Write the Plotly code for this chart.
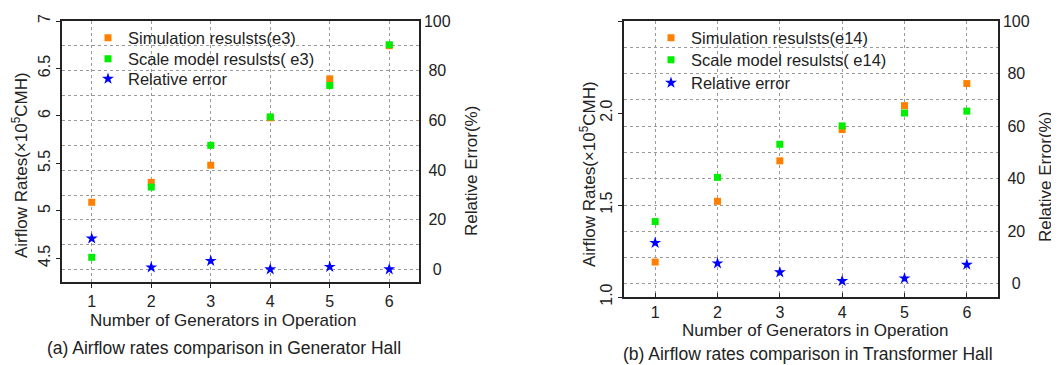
import plotly.graph_objects as go

# The page body adds an 8px margin, so the figure is drawn 8px in from the top-left.
OFF = 8
W, H = 1059 - OFF, 365 - OFF

generators = [1, 2, 3, 4, 5, 6]
gen_sim = [5.09, 5.30, 5.48, 5.98, 6.39, 6.74]
gen_scale = [4.51, 5.25, 5.69, 5.99, 6.32, 6.75]
gen_err = [12.5, 0.9, 3.5, 0.1, 1.1, 0.1]
tr_sim = [1.19, 1.52, 1.74, 1.91, 2.04, 2.16]
tr_scale = [1.41, 1.65, 1.83, 1.93, 2.00, 2.01]
tr_err = [15.6, 7.8, 4.4, 1.1, 2.1, 7.3]

err_ticks = [0, 20, 40, 60, 80, 100]
err_text = ["\u00a0\u00a00", "\u00a020", "\u00a040", "\u00a060", "\u00a080", "100"]
gen_ticks = [4.5, 5, 5.5, 6, 6.5, 7]
gen_text = ["4.5", "5", "5.5", "6", "6.5", "7"]
tr_ticks = [1.0, 1.5, 2.0, 2.5]
tr_text = ["1.0", "1.5", "2.0", "2.5"]

ORANGE = "#ff8000"
GREEN = "#00ee00"
BLUE = "#0000ff"
FONT = "Liberation Sans, Arial, sans-serif"


def px(x):
    return (x - OFF) / W


def py(y):
    return 1 - (y - OFF) / H


fig = go.Figure()


def add_panel(sim, scale, err, xa, ya, ya2, legs, tag):
    fig.add_trace(go.Scatter(x=generators, y=sim, mode="markers", name=f"Simulation resulsts({tag})",
                             marker=dict(symbol="square", size=7, color=ORANGE),
                             xaxis=xa, yaxis=ya, legend=legs[0], showlegend=True))
    fig.add_trace(go.Scatter(x=generators, y=scale, mode="markers", name=f"Scale model resulsts( {tag})",
                             marker=dict(symbol="square", size=7, color=GREEN),
                             xaxis=xa, yaxis=ya, legend=legs[1], showlegend=True))
    fig.add_trace(go.Scatter(x=generators, y=err, mode="markers", name="Relative error",
                             marker=dict(symbol="star", size=9, color=BLUE),
                             xaxis=xa, yaxis=ya2, legend=legs[2], showlegend=True))


add_panel(gen_sim, gen_scale, gen_err, "x", "y", "y2", ["legend", "legend2", "legend3"], "e3")
add_panel(tr_sim, tr_scale, tr_err, "x2", "y3", "y4", ["legend4", "legend5", "legend6"], "e14")

GRID = "#9a9a9a"
axis_line = dict(showline=True, linecolor="#222222", linewidth=1.5, automargin=False)
tickfont = dict(family=FONT, size=16, color="#222222")


def xaxis(dom, anchor, ticks):
    return dict(domain=dom, anchor=anchor, range=[0.5, 6.5], tickvals=generators,
                showgrid=True, gridcolor=GRID, gridwidth=1, griddash="dot",
                ticks=ticks, ticklen=4, tickcolor="#222222", mirror=True,
                zeroline=False, tickfont=tickfont, **axis_line)


def yleft(dom, anchor, rng, tv, tt):
    return dict(domain=dom, anchor=anchor, range=rng, tickvals=tv, ticktext=tt,
                tickangle=-90, showgrid=False, zeroline=False, ticks="outside", ticklen=4,
                tickcolor="#222222", tickfont=tickfont, **axis_line)


def yright(over, anchor):
    return dict(overlaying=over, anchor=anchor, side="right", range=[-5, 100],
                tickvals=err_ticks, ticktext=err_text, showgrid=True,
                gridcolor=GRID, gridwidth=1, griddash="dot",
                minor=dict(dtick=10, tick0=0, showgrid=True, gridcolor=GRID,
                           gridwidth=1, griddash="dot"),
                zeroline=False, ticks="", tickfont=tickfont, **axis_line)


def legend(x, y):
    return dict(x=px(x), y=py(y), xanchor="left", yanchor="middle", visible=True,
                bgcolor="rgba(0,0,0,0)", borderwidth=0,
                font=dict(family=FONT, size=16.5, color="#222222"))


fig.update_layout(
    width=W, height=H, margin=dict(l=0, r=0, t=0, b=0, autoexpand=False),
    paper_bgcolor="white", plot_bgcolor="white", showlegend=True,
    font=dict(family=FONT, size=16, color="#222222"),
    xaxis=xaxis([px(62), px(419)], "y", "outside"),
    yaxis=yleft([py(282), py(21)], "x", [4.25, 7], gen_ticks, gen_text),
    yaxis2=yright("y", "x"),
    xaxis2=xaxis([px(624), px(998)], "y3", "inside"),
    yaxis3=yleft([py(297), py(21)], "x2", [1.0, 2.5], tr_ticks, tr_text),
    yaxis4=yright("y3", "x2"),
    legend=legend(88, 38),
    legend2=legend(88, 59),
    legend3=legend(88, 79),
    legend4=legend(651, 38),
    legend5=legend(651, 60),
    legend6=legend(651, 83),
)


def ann(text, x, y, size, angle=0):
    fig.add_annotation(text=text, x=px(x), y=py(y), xref="paper", yref="paper",
                       showarrow=False, textangle=angle, xanchor="center", yanchor="middle",
                       font=dict(family=FONT, size=size, color="#222222"))


ann("Airflow Rates(×10<sup>5</sup>CMH)", 20, 165, 17, -90)
ann("Relative Error(%)", 472, 171, 17, -90)
ann("Number of Generators in Operation", 223, 320, 17)
ann("(a) Airflow rates comparison in Generator Hall", 224, 348, 17.5)

ann("Airflow Rates(×10<sup>5</sup>CMH)", 588, 174, 17, -90)
ann("Relative Error(%)", 1045, 177, 17, -90)
ann("Number of Generators in Operation", 815, 330, 17)
ann("(b) Airflow rates comparison in Transformer Hall", 808, 354, 17.5)

fig.write_html("out.html")
